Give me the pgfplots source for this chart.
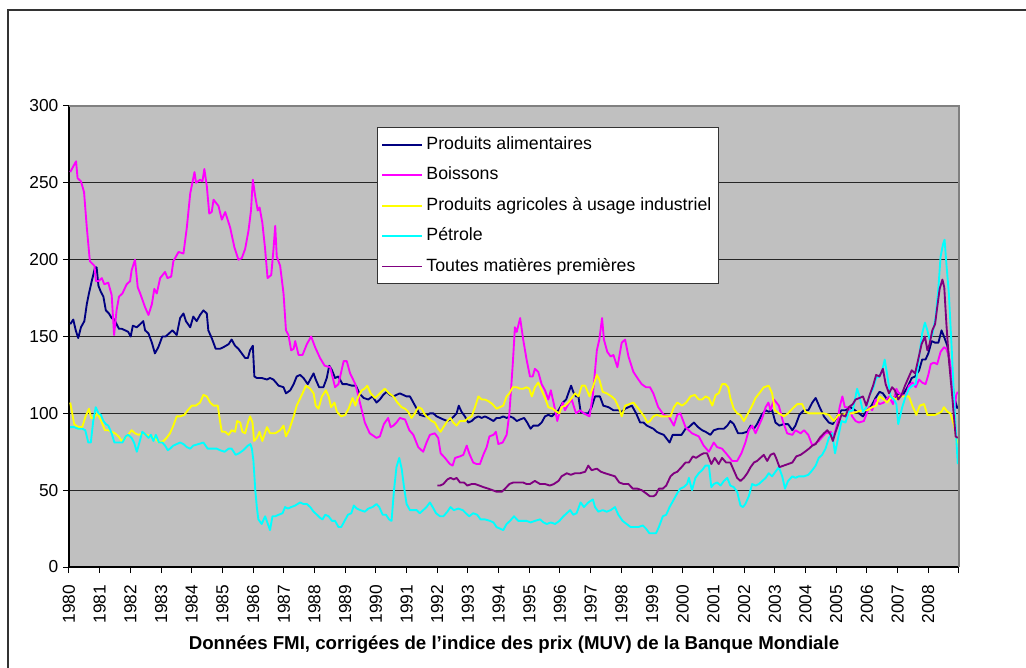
\documentclass[border=0pt]{standalone}
\usepackage{fontspec}
\setmainfont{Liberation Sans}
\usepackage{pgfplots}
\pgfplotsset{compat=1.18}
\definecolor{bggray}{RGB}{192,192,192}
\definecolor{cNavy}{RGB}{0,0,128}
\definecolor{cMag}{RGB}{255,0,255}
\definecolor{cYel}{RGB}{255,255,0}
\definecolor{cCyan}{RGB}{0,255,255}
\definecolor{cPurp}{RGB}{128,0,128}
\newcommand{\fs}{\fontsize{13}{15}\selectfont}
\newcommand{\fl}{\fontsize{13.3}{15}\selectfont}
\newcommand{\ft}{\fontsize{14}{16}\selectfont}
\begin{document}
\begin{tikzpicture}
\useasboundingbox (-51.75pt,-75.75pt) rectangle (717.75pt,425.25pt);
\fill[white] (-51.75pt,-75.75pt) rectangle (717.75pt,425.25pt);
\draw[black!80, line width=1.1pt] (-45.75pt,-90pt) -- (-45.75pt,417.75pt) -- (730pt,417.75pt);
\begin{axis}[
  name=ax,
  at={(0,0)}, anchor=south west,
  scale only axis, width=667.5pt, height=345.75pt,
  xmin=1980, xmax=2009, ymin=0, ymax=300,
  axis background/.style={fill=bggray},
  axis lines*=left,
  axis line style={black, line width=0.9pt},
  ytick={0,50,...,300},
  xtick={1980,...,2008},
  extra x ticks={2009}, extra x tick labels={},
  tick align=outside,
  major tick length=4.5pt,
  tick style={black, line width=0.75pt},
  ymajorgrids,
  grid style={black!85, line width=0.8pt},
  /pgf/number format/1000 sep={},
  /pgf/number format/assume math mode=true,
  ticklabel style={font=\fs},
  xticklabel style={rotate=90, anchor=east},
  xticklabel shift=5.5pt,
  xlabel={\bfseries Données FMI, corrigées de l'indice des prix (MUV) de la Banque Mondiale},
  xlabel style={at={(axis description cs:0.5,0)}, anchor=center, yshift=-58pt, font=\ft},
  legend cell align=left,
  legend style={at={(0.346,0.954)}, anchor=north west, draw=black!80, line width=0.75pt,
    fill=white, font=\fl, row sep=5pt, inner xsep=3pt, inner ysep=4pt,
    nodes={inner sep=2.5pt, text height=9.8pt, text depth=3pt}},
  legend image code/.code={\draw[#1, line width=1.3pt] (0pt,0pt) -- (30pt,0pt);},
  every axis plot/.append style={line width=1.4pt, line join=round},
]
\addplot[cNavy] coordinates {(1980.04,158)(1980.14,161)(1980.22,154)(1980.30,149)(1980.39,156)(1980.50,160)(1980.58,171)(1980.65,178)(1980.74,186)(1980.85,195)(1980.90,195)(1980.96,183)(1981.04,179)(1981.12,176)(1981.20,167)(1981.30,165)(1981.39,162)(1981.48,161)(1981.55,158)(1981.63,155)(1981.72,155)(1981.83,154)(1981.93,153)(1982.01,150)(1982.08,157)(1982.21,156)(1982.32,158)(1982.42,160)(1982.48,154)(1982.59,152)(1982.70,146)(1982.80,139)(1982.91,143)(1983.04,150)(1983.15,150)(1983.26,152)(1983.37,154)(1983.51,151)(1983.62,162)(1983.73,165)(1983.81,160)(1983.95,156)(1984.05,163)(1984.16,160)(1984.27,164)(1984.38,167)(1984.49,165)(1984.54,154)(1984.65,149)(1984.78,142)(1984.92,142)(1985.03,143)(1985.20,145)(1985.30,148)(1985.41,144)(1985.52,142)(1985.63,139)(1985.74,136)(1985.83,136)(1985.90,141)(1985.99,144)(1986.04,124)(1986.12,123)(1986.28,123)(1986.45,122)(1986.55,123)(1986.66,122)(1986.83,118)(1986.99,117)(1987.07,113)(1987.21,115)(1987.32,119)(1987.42,124)(1987.53,125)(1987.64,123)(1987.78,119)(1987.86,122)(1987.97,126)(1988.04,122)(1988.15,117)(1988.29,117)(1988.40,123)(1988.48,131)(1988.57,128)(1988.67,123)(1988.78,124)(1988.91,119)(1989.05,119)(1989.22,118)(1989.35,118)(1989.46,113)(1989.60,110)(1989.75,109)(1989.89,111)(1990.02,107)(1990.13,109)(1990.24,112)(1990.35,114)(1990.46,112)(1990.57,111)(1990.67,112)(1990.78,113)(1990.89,112)(1991.00,111)(1991.11,111)(1991.22,107)(1991.33,103)(1991.43,99)(1991.60,98)(1991.76,100)(1991.87,100)(1991.98,98)(1992.09,97)(1992.20,96)(1992.33,95)(1992.43,96)(1992.54,98)(1992.63,100)(1992.70,105)(1992.79,101)(1992.90,98)(1993.01,94)(1993.12,95)(1993.23,97)(1993.34,98)(1993.45,97)(1993.55,98)(1993.66,97)(1993.83,95)(1993.93,97)(1994.04,97)(1994.15,98)(1994.26,97)(1994.37,98)(1994.48,97)(1994.59,95)(1994.70,96)(1994.83,97)(1994.93,94)(1995.04,90)(1995.13,92)(1995.29,92)(1995.40,94)(1995.51,98)(1995.62,99)(1995.73,98)(1995.84,100)(1995.95,102)(1996.09,107)(1996.20,109)(1996.27,113)(1996.36,118)(1996.43,114)(1996.52,111)(1996.60,111)(1996.67,101)(1996.78,100)(1996.92,100)(1997.03,104)(1997.14,111)(1997.30,111)(1997.41,105)(1997.58,104)(1997.74,102)(1997.90,102)(1998.01,101)(1998.12,103)(1998.23,104)(1998.34,105)(1998.48,100)(1998.61,94)(1998.72,94)(1998.83,92)(1998.93,91)(1999.04,90)(1999.15,88)(1999.25,87)(1999.38,86)(1999.57,81)(1999.67,86)(1999.82,86)(1999.96,86)(2000.09,90)(2000.20,91)(2000.36,94)(2000.50,91)(2000.63,89)(2000.74,88)(2000.90,86)(2001.01,89)(2001.17,90)(2001.34,90)(2001.45,92)(2001.55,95)(2001.66,93)(2001.80,87)(2001.93,87)(2002.10,88)(2002.21,92)(2002.32,90)(2002.42,93)(2002.57,99)(2002.70,102)(2002.80,101)(2002.91,102)(2003.02,94)(2003.15,92)(2003.29,93)(2003.43,93)(2003.57,89)(2003.67,92)(2003.80,99)(2003.95,102)(2004.09,102)(2004.22,107)(2004.33,110)(2004.46,104)(2004.60,98)(2004.76,94)(2004.89,93)(2005.03,98)(2005.17,102)(2005.30,102)(2005.47,104)(2005.61,102)(2005.74,100)(2005.87,98)(2006.01,102)(2006.15,105)(2006.28,110)(2006.41,114)(2006.52,113)(2006.66,109)(2006.77,111)(2006.91,110)(2007.04,113)(2007.17,112)(2007.32,117)(2007.46,123)(2007.57,124)(2007.70,128)(2007.80,135)(2007.91,135)(2008.00,139)(2008.11,147)(2008.22,146)(2008.33,146)(2008.43,154)(2008.51,150)(2008.62,144)(2008.72,129)(2008.84,111)(2008.95,103)};
\addlegendentry{Produits alimentaires}
\addplot[cMag] coordinates {(1980.04,257)(1980.23,264)(1980.28,253)(1980.39,251)(1980.49,244)(1980.58,221)(1980.68,199)(1980.83,196)(1980.88,186)(1980.96,186)(1981.07,188)(1981.15,184)(1981.28,185)(1981.39,177)(1981.47,151)(1981.55,167)(1981.63,176)(1981.74,178)(1981.88,184)(1981.99,186)(1982.04,193)(1982.15,200)(1982.24,182)(1982.32,178)(1982.48,169)(1982.59,164)(1982.70,171)(1982.78,181)(1982.86,178)(1982.97,188)(1983.13,192)(1983.21,188)(1983.33,189)(1983.40,199)(1983.57,205)(1983.73,204)(1983.84,221)(1983.95,243)(1984.09,257)(1984.14,250)(1984.27,252)(1984.35,251)(1984.41,259)(1984.49,248)(1984.57,230)(1984.65,231)(1984.71,239)(1984.87,235)(1984.98,226)(1985.09,231)(1985.25,221)(1985.39,208)(1985.52,200)(1985.63,201)(1985.74,207)(1985.85,219)(1985.93,232)(1985.99,252)(1986.07,241)(1986.15,232)(1986.21,234)(1986.30,224)(1986.39,207)(1986.47,188)(1986.59,190)(1986.66,206)(1986.72,222)(1986.77,202)(1986.88,196)(1986.99,178)(1987.07,154)(1987.15,151)(1987.24,141)(1987.32,142)(1987.37,147)(1987.48,138)(1987.61,138)(1987.75,145)(1987.89,150)(1988.02,143)(1988.18,136)(1988.33,131)(1988.51,130)(1988.67,117)(1988.78,119)(1988.95,134)(1989.05,134)(1989.16,126)(1989.33,119)(1989.43,111)(1989.64,94)(1989.80,87)(1990.02,84)(1990.13,85)(1990.26,93)(1990.40,97)(1990.48,91)(1990.57,92)(1990.67,94)(1990.78,97)(1990.95,96)(1991.09,89)(1991.22,86)(1991.38,78)(1991.54,75)(1991.65,81)(1991.76,86)(1991.92,87)(1992.03,84)(1992.11,74)(1992.25,71)(1992.41,67)(1992.50,66)(1992.58,71)(1992.74,72)(1992.85,73)(1992.96,79)(1993.04,74)(1993.17,68)(1993.28,67)(1993.39,67)(1993.50,73)(1993.61,78)(1993.70,85)(1993.83,86)(1993.91,88)(1993.99,80)(1994.13,81)(1994.26,86)(1994.35,100)(1994.46,132)(1994.53,156)(1994.59,153)(1994.70,162)(1994.80,148)(1994.91,135)(1995.02,124)(1995.11,124)(1995.18,129)(1995.29,127)(1995.40,119)(1995.51,115)(1995.62,109)(1995.70,115)(1995.80,106)(1995.91,95)(1996.00,102)(1996.09,107)(1996.16,102)(1996.27,106)(1996.38,109)(1996.52,100)(1996.65,102)(1996.78,100)(1996.96,98)(1997.07,112)(1997.20,141)(1997.28,148)(1997.37,162)(1997.43,148)(1997.54,140)(1997.65,137)(1997.74,138)(1997.87,130)(1998.01,146)(1998.12,148)(1998.23,137)(1998.39,127)(1998.52,123)(1998.66,119)(1998.80,117)(1998.93,117)(1999.04,113)(1999.20,104)(1999.38,99)(1999.54,98)(1999.71,92)(1999.82,99)(1999.92,100)(2000.09,91)(2000.30,87)(2000.52,85)(2000.68,79)(2000.85,75)(2001.01,81)(2001.12,78)(2001.28,77)(2001.45,73)(2001.61,69)(2001.77,69)(2001.91,74)(2002.04,81)(2002.15,89)(2002.26,92)(2002.37,87)(2002.48,92)(2002.59,97)(2002.70,104)(2002.79,107)(2002.86,102)(2002.97,109)(2003.13,105)(2003.26,95)(2003.40,87)(2003.57,86)(2003.67,89)(2003.84,87)(2003.95,89)(2004.09,86)(2004.22,79)(2004.43,82)(2004.65,87)(2004.82,88)(2004.92,85)(2005.03,93)(2005.11,104)(2005.20,111)(2005.28,104)(2005.41,104)(2005.52,98)(2005.63,95)(2005.74,94)(2005.90,95)(2006.07,104)(2006.17,102)(2006.28,109)(2006.41,106)(2006.55,107)(2006.72,111)(2006.85,106)(2006.96,116)(2007.04,113)(2007.15,112)(2007.26,111)(2007.37,118)(2007.48,120)(2007.59,117)(2007.70,122)(2007.80,120)(2007.91,119)(2008.00,125)(2008.08,132)(2008.18,133)(2008.29,132)(2008.40,140)(2008.51,143)(2008.59,142)(2008.67,137)(2008.76,126)(2008.84,100)(2008.91,112)(2008.96,114)};
\addlegendentry{Boissons}
\addplot[cYel] coordinates {(1980.04,107)(1980.17,93)(1980.30,91)(1980.43,91)(1980.54,98)(1980.65,103)(1980.72,97)(1980.83,97)(1980.91,100)(1981.01,97)(1981.09,93)(1981.17,89)(1981.28,89)(1981.39,88)(1981.50,87)(1981.61,85)(1981.72,82)(1981.83,84)(1981.93,86)(1982.04,89)(1982.15,87)(1982.26,86)(1982.39,87)(1982.53,86)(1982.67,85)(1982.80,84)(1982.93,81)(1983.08,82)(1983.18,84)(1983.29,87)(1983.40,92)(1983.51,98)(1983.62,98)(1983.76,99)(1983.87,102)(1984.00,105)(1984.13,105)(1984.27,107)(1984.38,112)(1984.49,111)(1984.60,107)(1984.71,105)(1984.85,105)(1984.92,95)(1984.98,88)(1985.09,88)(1985.20,86)(1985.30,89)(1985.41,88)(1985.48,95)(1985.58,94)(1985.65,88)(1985.74,87)(1985.83,94)(1985.90,98)(1985.98,94)(1986.03,82)(1986.12,84)(1986.21,88)(1986.30,82)(1986.45,91)(1986.55,87)(1986.72,87)(1986.88,89)(1986.99,92)(1987.07,85)(1987.17,89)(1987.32,98)(1987.42,105)(1987.61,113)(1987.72,118)(1987.86,116)(1987.97,113)(1988.04,105)(1988.13,103)(1988.24,111)(1988.37,115)(1988.46,111)(1988.54,104)(1988.65,107)(1988.73,101)(1988.87,98)(1989.00,99)(1989.11,103)(1989.24,110)(1989.33,105)(1989.43,111)(1989.54,115)(1989.63,116)(1989.72,118)(1989.83,113)(1989.97,110)(1990.08,112)(1990.18,114)(1990.29,116)(1990.43,113)(1990.57,111)(1990.70,107)(1990.84,104)(1990.95,103)(1991.05,101)(1991.16,97)(1991.27,100)(1991.38,104)(1991.49,103)(1991.60,99)(1991.71,97)(1991.82,95)(1991.92,94)(1992.03,90)(1992.11,88)(1992.20,91)(1992.33,95)(1992.43,97)(1992.52,94)(1992.63,92)(1992.74,95)(1992.90,95)(1993.01,97)(1993.12,98)(1993.23,104)(1993.34,111)(1993.45,109)(1993.55,109)(1993.66,108)(1993.80,106)(1993.93,103)(1994.04,104)(1994.15,105)(1994.26,111)(1994.35,113)(1994.46,117)(1994.59,117)(1994.70,116)(1994.80,116)(1994.91,117)(1995.00,116)(1995.08,111)(1995.18,117)(1995.29,120)(1995.40,115)(1995.51,110)(1995.62,104)(1995.76,103)(1995.89,101)(1995.98,100)(1996.05,104)(1996.16,105)(1996.27,107)(1996.38,110)(1996.49,113)(1996.60,111)(1996.71,118)(1996.82,118)(1996.96,111)(1997.07,117)(1997.20,125)(1997.28,122)(1997.39,114)(1997.52,113)(1997.68,111)(1997.79,109)(1997.93,103)(1998.01,98)(1998.12,105)(1998.26,106)(1998.39,107)(1998.52,104)(1998.63,101)(1998.74,98)(1998.85,94)(1998.93,95)(1999.04,98)(1999.15,99)(1999.30,98)(1999.49,98)(1999.60,98)(1999.71,104)(1999.82,107)(1999.98,105)(2000.11,107)(2000.25,111)(2000.39,112)(2000.52,109)(2000.63,109)(2000.74,111)(2000.85,110)(2000.96,105)(2001.07,112)(2001.17,113)(2001.28,119)(2001.39,119)(2001.48,117)(2001.55,110)(2001.66,103)(2001.77,100)(2001.88,99)(2001.99,95)(2002.10,99)(2002.26,105)(2002.37,110)(2002.53,114)(2002.64,117)(2002.80,118)(2002.91,113)(2003.00,102)(2003.13,100)(2003.29,98)(2003.43,100)(2003.57,103)(2003.73,106)(2003.89,106)(2004.00,101)(2004.11,100)(2004.27,100)(2004.43,100)(2004.60,100)(2004.76,99)(2004.92,95)(2005.07,99)(2005.20,99)(2005.36,100)(2005.52,100)(2005.68,101)(2005.85,102)(2006.01,102)(2006.17,104)(2006.30,105)(2006.41,111)(2006.55,109)(2006.66,107)(2006.80,111)(2006.93,109)(2007.04,111)(2007.21,111)(2007.37,111)(2007.48,105)(2007.61,99)(2007.72,105)(2007.86,106)(2007.97,99)(2008.11,99)(2008.22,99)(2008.33,100)(2008.43,101)(2008.51,104)(2008.62,101)(2008.72,100)(2008.84,92)(2008.95,80)};
\addlegendentry{Produits agricoles à usage industriel}
\addplot[cCyan] coordinates {(1980.04,91)(1980.17,91)(1980.30,90)(1980.43,90)(1980.53,89)(1980.63,81)(1980.71,81)(1980.79,95)(1980.87,104)(1980.96,100)(1981.04,99)(1981.12,95)(1981.20,93)(1981.28,92)(1981.39,87)(1981.48,81)(1981.61,81)(1981.74,81)(1981.85,85)(1981.93,86)(1982.04,84)(1982.12,81)(1982.21,75)(1982.28,80)(1982.39,88)(1982.50,86)(1982.59,84)(1982.67,86)(1982.75,82)(1982.83,86)(1982.93,81)(1983.04,81)(1983.13,79)(1983.22,76)(1983.29,77)(1983.40,79)(1983.51,80)(1983.62,81)(1983.73,80)(1983.84,78)(1983.95,77)(1984.05,79)(1984.22,80)(1984.38,81)(1984.52,77)(1984.65,77)(1984.82,77)(1984.92,76)(1985.07,75)(1985.20,77)(1985.30,77)(1985.43,73)(1985.54,74)(1985.68,76)(1985.83,79)(1985.91,80)(1985.96,77)(1986.01,69)(1986.07,50)(1986.12,39)(1986.17,31)(1986.28,28)(1986.39,33)(1986.48,28)(1986.55,24)(1986.63,33)(1986.72,33)(1986.83,34)(1986.96,35)(1987.04,39)(1987.13,38)(1987.24,39)(1987.37,40)(1987.53,42)(1987.64,41)(1987.75,41)(1987.86,39)(1987.97,36)(1988.08,34)(1988.18,32)(1988.26,31)(1988.35,34)(1988.46,33)(1988.57,30)(1988.67,30)(1988.78,26)(1988.87,26)(1988.98,30)(1989.09,34)(1989.20,35)(1989.28,40)(1989.38,38)(1989.49,37)(1989.64,36)(1989.75,38)(1989.89,39)(1990.02,41)(1990.11,39)(1990.22,34)(1990.33,34)(1990.43,31)(1990.51,30)(1990.59,50)(1990.67,65)(1990.76,71)(1990.84,64)(1990.91,53)(1991.00,41)(1991.11,37)(1991.22,37)(1991.33,37)(1991.43,35)(1991.54,37)(1991.65,39)(1991.76,42)(1991.85,39)(1991.96,35)(1992.09,33)(1992.20,33)(1992.33,36)(1992.43,39)(1992.54,37)(1992.68,38)(1992.83,37)(1992.93,35)(1993.04,33)(1993.17,35)(1993.30,34)(1993.41,31)(1993.55,31)(1993.72,30)(1993.83,29)(1993.93,26)(1994.04,25)(1994.15,24)(1994.26,28)(1994.37,30)(1994.50,33)(1994.64,30)(1994.80,30)(1994.91,30)(1995.04,29)(1995.18,30)(1995.35,31)(1995.46,29)(1995.57,28)(1995.70,29)(1995.84,28)(1995.98,30)(1996.11,33)(1996.22,35)(1996.33,37)(1996.43,34)(1996.54,35)(1996.67,42)(1996.78,39)(1996.92,42)(1997.07,44)(1997.14,39)(1997.25,36)(1997.39,37)(1997.52,36)(1997.65,37)(1997.79,39)(1997.90,34)(1998.04,30)(1998.17,28)(1998.30,26)(1998.41,26)(1998.55,26)(1998.70,27)(1998.80,25)(1998.91,22)(1999.04,22)(1999.13,22)(1999.22,26)(1999.35,33)(1999.46,34)(1999.57,39)(1999.71,44)(1999.82,48)(1999.92,51)(2000.03,52)(2000.14,54)(2000.20,58)(2000.30,50)(2000.41,58)(2000.52,61)(2000.63,63)(2000.74,66)(2000.85,66)(2000.93,52)(2001.01,54)(2001.12,55)(2001.23,53)(2001.34,56)(2001.45,58)(2001.55,53)(2001.66,52)(2001.77,49)(2001.88,40)(2001.96,39)(2002.04,41)(2002.15,46)(2002.26,54)(2002.37,53)(2002.48,54)(2002.59,56)(2002.70,58)(2002.80,61)(2002.91,59)(2003.02,62)(2003.13,65)(2003.24,59)(2003.33,51)(2003.43,56)(2003.57,59)(2003.67,58)(2003.78,59)(2003.95,59)(2004.09,60)(2004.22,63)(2004.33,66)(2004.43,71)(2004.54,73)(2004.65,77)(2004.76,84)(2004.87,87)(2004.96,74)(2005.07,85)(2005.17,95)(2005.30,94)(2005.41,101)(2005.54,102)(2005.63,111)(2005.68,116)(2005.76,111)(2005.87,101)(2005.98,104)(2006.09,112)(2006.20,116)(2006.30,123)(2006.41,124)(2006.50,128)(2006.58,135)(2006.66,125)(2006.77,111)(2006.88,109)(2006.96,106)(2007.02,93)(2007.15,104)(2007.26,111)(2007.37,116)(2007.48,118)(2007.59,119)(2007.70,137)(2007.80,152)(2007.89,159)(2007.97,154)(2008.04,148)(2008.13,151)(2008.24,163)(2008.33,182)(2008.40,202)(2008.48,210)(2008.53,213)(2008.59,197)(2008.67,178)(2008.76,143)(2008.84,109)(2008.96,67)};
\addlegendentry{Pétrole}
\addplot[cPurp] coordinates {(1992.00,53)(1992.09,53)(1992.20,54)(1992.33,57)(1992.43,58)(1992.54,57)(1992.63,58)(1992.74,55)(1992.87,55)(1992.98,53)(1993.12,54)(1993.23,54)(1993.37,53)(1993.50,52)(1993.66,51)(1993.80,50)(1993.93,49)(1994.10,49)(1994.21,51)(1994.35,54)(1994.48,55)(1994.64,55)(1994.80,55)(1994.91,54)(1995.02,54)(1995.18,56)(1995.35,54)(1995.51,54)(1995.67,53)(1995.80,54)(1995.95,56)(1996.05,59)(1996.22,61)(1996.35,60)(1996.49,61)(1996.65,61)(1996.82,62)(1996.92,66)(1997.03,63)(1997.20,64)(1997.33,62)(1997.47,61)(1997.63,60)(1997.79,59)(1997.93,55)(1998.07,54)(1998.23,54)(1998.37,51)(1998.52,51)(1998.66,50)(1998.80,48)(1998.93,46)(1999.04,46)(1999.12,47)(1999.22,51)(1999.35,51)(1999.46,53)(1999.60,59)(1999.71,61)(1999.82,62)(1999.96,65)(2000.09,68)(2000.20,68)(2000.33,72)(2000.43,71)(2000.58,73)(2000.68,74)(2000.79,74)(2000.93,67)(2001.04,71)(2001.17,67)(2001.28,71)(2001.41,68)(2001.55,68)(2001.66,63)(2001.77,58)(2001.88,56)(2001.99,58)(2002.10,61)(2002.21,65)(2002.32,68)(2002.42,69)(2002.53,71)(2002.64,73)(2002.75,69)(2002.86,73)(2002.97,74)(2003.04,71)(2003.15,65)(2003.29,66)(2003.43,67)(2003.57,68)(2003.70,72)(2003.84,73)(2003.98,75)(2004.11,77)(2004.22,79)(2004.33,80)(2004.46,84)(2004.60,87)(2004.71,89)(2004.82,86)(2004.89,82)(2004.98,88)(2005.07,93)(2005.17,99)(2005.30,98)(2005.41,104)(2005.54,106)(2005.63,109)(2005.76,110)(2005.87,111)(2005.98,105)(2006.09,112)(2006.20,118)(2006.30,125)(2006.41,124)(2006.52,129)(2006.61,119)(2006.72,113)(2006.82,117)(2006.91,115)(2007.02,109)(2007.13,112)(2007.24,118)(2007.35,123)(2007.46,128)(2007.57,126)(2007.67,135)(2007.78,145)(2007.89,150)(2007.97,141)(2008.04,145)(2008.13,154)(2008.22,158)(2008.29,169)(2008.37,181)(2008.46,187)(2008.52,182)(2008.59,158)(2008.67,135)(2008.78,111)(2008.89,85)(2008.96,84)};
\addlegendentry{Toutes matières premières}
\end{axis}
\draw[gray, line width=1.1pt] (ax.north west) -- (ax.north east) -- (ax.south east);
\end{tikzpicture}
\end{document}
